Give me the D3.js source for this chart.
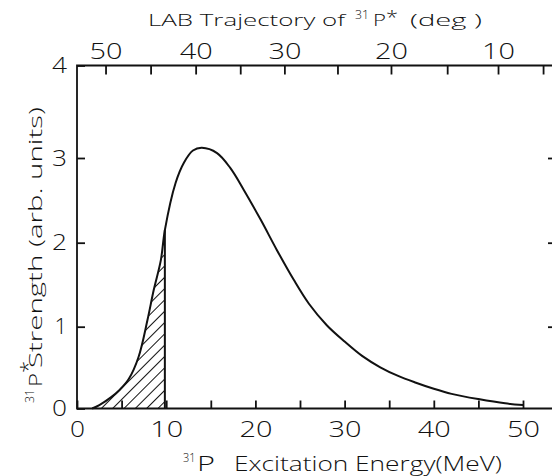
<!DOCTYPE html>
<html><head><meta charset="utf-8">
<script src="https://cdn.jsdelivr.net/npm/d3@7/dist/d3.min.js"></script>
<style>
body{margin:0;background:#fff}
text{font-family:"Open Sans","DejaVu Sans",sans-serif;font-weight:300;fill:#111}
</style>
</head><body>
<svg id="c" width="552" height="476"></svg>
<script>
// ---- data ----
const energies  = [1.7, 2.5, 3.8, 4.8, 5.8, 6.9, 7.9, 8.6, 9.4, 9.85, 11.05, 12.0, 13.0, 14.0, 15.7, 17.2, 18.7, 20.6, 22.4, 24.3, 26, 28, 30, 32, 34, 36, 38, 40, 42, 45, 48, 50];
const strengths = [0, 0.042, 0.136, 0.23, 0.36, 0.63, 1.079, 1.436, 1.793, 2.149, 2.705, 2.947, 3.081, 3.11, 3.053, 2.88, 2.623, 2.27, 1.914, 1.558, 1.273, 1.018, 0.819, 0.64, 0.504, 0.398, 0.315, 0.241, 0.179, 0.115, 0.063, 0.042];
const hatchEnd = 9.85;
const xMinorTicks = [0,5,10,15,20,25,30,35,40,45,50];
const xTickLabels = [0,10,20,30,40,50];
const yTickValues = [0,1,2,3,4];
const yInnerTicks = [1,2,3];
const angleTicks = [50,45,40,35,30,25,20,15,10,5];
const angleTickEnergies = [3.2,8.25,13.3,18.3,23.25,29.2,35.2,41.5,47.2,52.25];
const angleLabels = [50,40,30,20,10];

// ---- layout ----
const svg = d3.select("#c");
const mLeft = 77, mRight = 553, mTop = 65.5, mBottom = 408.5;
const x = d3.scaleLinear().domain([0,50]).range([mLeft, 523]);
// hand-drawn axis: ticks are not perfectly evenly spaced
const y = d3.scaleLinear().domain(yTickValues).range([mBottom, 326.7, 242.7, 158, mTop]);
const smooth = d3.curveCatmullRom.alpha(0.5);

// hatch pattern
const defs = svg.append("defs");
const pat = defs.append("pattern").attr("id","hatch").attr("patternUnits","userSpaceOnUse")
  .attr("width",8).attr("height",8).attr("patternTransform","rotate(45)");
pat.append("line").attr("x1",0).attr("y1",0).attr("x2",0).attr("y2",8)
  .attr("stroke","#111").attr("stroke-width",2);

const pts = energies.map((e,i)=>[e,strengths[i]]);
const hatchPts = pts.filter(p=>p[0]<=hatchEnd);
svg.append("path").datum(hatchPts)
  .attr("d", d3.area().x(d=>x(d[0])).y0(y(0)).y1(d=>y(d[1])).curve(smooth))
  .attr("fill","url(#hatch)");
svg.append("line").attr("x1",x(hatchEnd)).attr("x2",x(hatchEnd))
  .attr("y1",y(0)).attr("y2",y(hatchPts[hatchPts.length-1][1]))
  .attr("stroke","#111").attr("stroke-width",2);

// curve
svg.append("path").datum(pts)
  .attr("d", d3.line().x(d=>x(d[0])).y(d=>y(d[1])).curve(smooth))
  .attr("fill","none").attr("stroke","#111").attr("stroke-width",2);

// frame
svg.append("path").attr("d",`M${mRight},${mTop}H${mLeft}V${mBottom}H${mRight}`)
  .attr("fill","none").attr("stroke","#111").attr("stroke-width",1.8);

function styleAxis(g){
  g.select(".domain").remove();
  g.selectAll(".tick line").attr("stroke","#111").attr("stroke-width",1.8);
  g.selectAll(".tick text").attr("fill","#111").attr("font-size",null).attr("font-family",null)
    .style("font-size","22px")
    .each(function(){
      const s = d3.select(this).text();
      if (s.length === 2) d3.select(this).attr("textLength",33).attr("lengthAdjust","spacingAndGlyphs");
      if (s.length === 1 && s !== "1") d3.select(this).attr("textLength",15).attr("lengthAdjust","spacingAndGlyphs");
    });
}

// bottom axis
svg.append("g").attr("transform",`translate(0,${mBottom})`)
  .call(d3.axisBottom(x).tickValues(xMinorTicks).tickSizeInner(-8).tickSizeOuter(0).tickPadding(13)
    .tickFormat(d=> xTickLabels.includes(d) ? String(d) : ""))
  .call(styleAxis);

// top axis (angles)
const xaScale = d3.scaleLinear().domain(angleTicks).range(angleTickEnergies.map(e=>x(e)));
svg.append("g").attr("transform",`translate(0,${mTop})`)
  .call(d3.axisTop(xaScale).tickValues(angleTicks).tickSizeInner(-9).tickSizeOuter(0).tickPadding(7)
    .tickFormat(d=> angleLabels.includes(d) ? String(d) : ""))
  .call(styleAxis);

// left axis
svg.append("g").attr("transform",`translate(${mLeft},0)`)
  .call(d3.axisLeft(y).tickValues(yTickValues).tickSizeInner(-8).tickSizeOuter(0).tickPadding(10)
    .tickFormat(d=>String(d)))
  .call(styleAxis);

// right ticks
svg.append("g").attr("transform",`translate(${mRight},0)`)
  .call(d3.axisRight(y).tickValues(yInnerTicks).tickSizeInner(-5).tickSizeOuter(0).tickFormat(""))
  .call(styleAxis);

// titles
function piece(g, txt, xPos, yPos, size, len){
  const t = g.append("text").attr("x",xPos).attr("y",yPos).style("font-size",size+"px").text(txt);
  if(len) t.attr("textLength",len).attr("lengthAdjust","spacingAndGlyphs");
  return t;
}
const tg = svg.append("g");
piece(tg,"LAB Trajectory of",148,25.5,17,197);
piece(tg,"31",355,19,12.5,14);
piece(tg,"P",373,25.5,17,13);
piece(tg,"*",386,24,19,12);
piece(tg,"(deg )",410,25.5,17,72);

const bg = svg.append("g");
piece(bg,"31",183,462,13,12.5);
piece(bg,"P",197,471,19.5,18);
piece(bg,"Excitation Energy(MeV)",234,471,19.5,268);

const yg = svg.append("g").attr("transform","translate(41.7,0) rotate(-90)");
piece(yg,"31",-403,-8,13,14);
piece(yg,"P",-387,0,19,14);
piece(yg,"*",-373,-7,21,12);
piece(yg,"Strength (arb. units)",-368,0,19,261);
</script>
</body></html>
